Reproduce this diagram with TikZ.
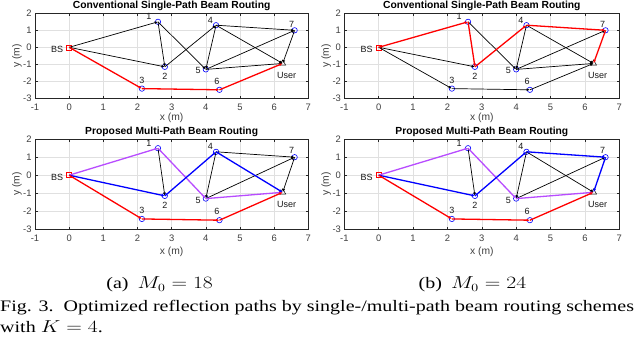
\documentclass[tikz,border=0pt]{standalone}
\usepackage{fontspec}
\setmainfont{Liberation Serif}
\newfontfamily\plotfont{Liberation Sans}
\usetikzlibrary{arrows.meta,shapes.geometric}
\definecolor{axc}{gray}{0.15}
\definecolor{gridc}{gray}{0.88}
\definecolor{tickc}{gray}{0.25}
\definecolor{mpurple}{rgb}{0.72,0.3,1}
\tikzset{
  ptmark/.style={circle, draw=blue, line width=0.6pt, minimum size=5.4pt, inner sep=0pt},
  bsmark/.style={rectangle, draw=red, line width=0.6pt, minimum size=5pt, inner sep=0pt},
  usrmark/.style={regular polygon, regular polygon sides=3, draw=black, line width=0.5pt, minimum size=7pt, inner sep=0pt},
  lbl/.style={font=\plotfont\fontsize{9}{9}\selectfont, text=black!90, inner sep=0pt},
  ticklbl/.style={font=\plotfont\fontsize{9.4}{9.4}\selectfont, text=tickc, inner sep=0pt},
  axlbl/.style={font=\plotfont\fontsize{10.3}{10.3}\selectfont, text=tickc, inner sep=0pt},
  ttl/.style={font=\plotfont\bfseries\fontsize{10.3}{10.3}\selectfont, inner sep=0pt},
  edgebase/.style={-{Latex[length=3.4pt,width=2.8pt]}, line width=0.7pt},
  blk/.style={edgebase, black},
  rd/.style={edgebase, red, line width=1.3pt},
  bl/.style={edgebase, blue, line width=1.3pt},
  pu/.style={edgebase, mpurple, line width=1.3pt},
  capt/.style={font=\fontsize{16}{16}\selectfont, inner sep=0pt, xscale=1.25}
}
% #1 prefix, #2 L, #3 R, #4 T, #5 B, #6 title, #7 xlabel offset
\newcommand\drawpanel[7]{%
  \pgfmathsetmacro\sx{(#3-#2)/8}%
  \pgfmathsetmacro\sy{(#5-#4)/5}%
  \pgfmathsetmacro\ox{#2+\sx}%
  \pgfmathsetmacro\oy{#4+2*\sy}%
  \foreach \v in {0,...,6} \draw[gridc, line width=0.4pt] ({\ox+\v*\sx},#4) -- ({\ox+\v*\sx},#5);
  \foreach \v in {-2,...,1} \draw[gridc, line width=0.4pt] (#2,{\oy-\v*\sy}) -- (#3,{\oy-\v*\sy});
  \draw[axc, line width=0.5pt] (#2,#4) rectangle (#3,#5);
  \foreach \v in {-1,...,7} {
    \draw[axc, line width=0.5pt] ({\ox+\v*\sx},#5) -- ++(0,-2.5) ({\ox+\v*\sx},#4) -- ++(0,2.5);
    \node[ticklbl] (#1xt\v) at ({\ox+\v*\sx},#5+9.2) {\v};
  }
  \foreach \v in {-3,...,2} {
    \draw[axc, line width=0.5pt] (#2,{\oy-\v*\sy}) -- ++(2.5,0) (#3,{\oy-\v*\sy}) -- ++(-2.5,0);
    \node[ticklbl, anchor=east] (#1yt\v) at (#2-3.2,{\oy-\v*\sy}) {\v};
  }
  \node[axlbl] (#1xl) at ({(#2+#3)/2},#5+#7) {x (m)};
  \node[axlbl, rotate=90] (#1yl) at (#2-18,{(#4+#5)/2}) {y (m)};
  \node[ttl] (#1tt) at ({(#2+#3)/2},#4-7.6) {#6};
  \begin{scope}[shift={(\ox,\oy)}, x=\sx pt, y=\sy pt]
    \node[bsmark] (#1BS) at (0,0) {};
    \node[ptmark] (#11) at (2.6,1.5) {};
    \node[ptmark] (#12) at (2.8,-1.15) {};
    \node[ptmark] (#13) at (2.13,-2.43) {};
    \node[ptmark] (#14) at (4.3,1.3) {};
    \node[ptmark] (#15) at (4.0,-1.3) {};
    \node[ptmark] (#16) at (4.4,-2.5) {};
    \node[ptmark] (#17) at (6.6,1.0) {};
    \node[usrmark] (#1U) at (6.25,-0.95) {};
  \end{scope}
  \node[lbl] (#1lBS) at ([shift={(-12pt,-2pt)}]#1BS.center) {BS};
  \node[lbl] (#1l1) at ([shift={(-9pt,5pt)}]#11.center) {1};
  \node[lbl] (#1l2) at ([shift={(0pt,-9.5pt)}]#12.center) {2};
  \node[lbl] (#1l3) at ([shift={(0pt,8.3pt)}]#13.center) {3};
  \node[lbl] (#1l4) at ([shift={(-5.7pt,5pt)}]#14.center) {4};
  \node[lbl] (#1l5) at ([shift={(-7.7pt,-1.4pt)}]#15.center) {5};
  \node[lbl] (#1l6) at ([shift={(-2.7pt,8.7pt)}]#16.center) {6};
  \node[lbl] (#1l7) at ([shift={(-3pt,6.3pt)}]#17.center) {7};
  \node[lbl] (#1lU) at ([shift={(4pt,-11.7pt)}]#1U.center) {User};
}
\newcommand\edg[4]{\draw[#2] (#1#3.center) -- (#1#4.center);}
\begin{document}
\begin{tikzpicture}[x=1pt,y=-1pt]
\useasboundingbox (0,0) rectangle (640,343);
\fill[white] (0,0) rectangle (640,343);
% panel a: top left
\drawpanel{a}{35}{308.3}{13.3}{98.3}{Conventional Single-Path Beam Routing}{20}
\edg{a}{blk}{BS}{1}\edg{a}{blk}{BS}{2}\edg{a}{blk}{1}{2}\edg{a}{blk}{1}{5}
\edg{a}{blk}{2}{4}\edg{a}{blk}{4}{5}\edg{a}{blk}{4}{7}\edg{a}{blk}{4}{U}
\edg{a}{blk}{5}{7}\edg{a}{blk}{5}{U}\edg{a}{blk}{7}{U}
\edg{a}{rd}{BS}{3}\edg{a}{rd}{3}{6}\edg{a}{rd}{6}{U}
% panel b: top right
\drawpanel{b}{344.3}{619.3}{13.3}{98.3}{Conventional Single-Path Beam Routing}{20}
\edg{b}{blk}{BS}{2}\edg{b}{blk}{BS}{3}\edg{b}{blk}{3}{6}\edg{b}{blk}{6}{U}
\edg{b}{blk}{1}{5}\edg{b}{blk}{4}{5}\edg{b}{blk}{4}{U}\edg{b}{blk}{5}{7}\edg{b}{blk}{5}{U}
\edg{b}{rd}{BS}{1}\edg{b}{rd}{1}{2}\edg{b}{rd}{2}{4}\edg{b}{rd}{4}{7}\edg{b}{rd}{7}{U}
% panel c: bottom left
\drawpanel{c}{35}{308.3}{139.2}{229.2}{Proposed Multi-Path Beam Routing}{22.5}
\edg{c}{blk}{1}{2}\edg{c}{blk}{4}{5}\edg{c}{blk}{4}{7}\edg{c}{blk}{5}{7}\edg{c}{blk}{7}{U}
\edg{c}{pu}{BS}{1}\edg{c}{pu}{1}{5}\edg{c}{pu}{5}{U}
\edg{c}{bl}{BS}{2}\edg{c}{bl}{2}{4}\edg{c}{bl}{4}{U}
\edg{c}{rd}{BS}{3}\edg{c}{rd}{3}{6}\edg{c}{rd}{6}{U}
% panel d: bottom right
\drawpanel{d}{344.3}{619.3}{139.2}{229.2}{Proposed Multi-Path Beam Routing}{22.5}
\edg{d}{blk}{1}{2}\edg{d}{blk}{4}{5}\edg{d}{blk}{4}{U}\edg{d}{blk}{5}{7}
\edg{d}{pu}{BS}{1}\edg{d}{pu}{1}{5}\edg{d}{pu}{5}{U}
\edg{d}{bl}{BS}{2}\edg{d}{bl}{2}{4}\edg{d}{bl}{4}{7}\edg{d}{bl}{7}{U}
\edg{d}{rd}{BS}{3}\edg{d}{rd}{3}{6}\edg{d}{rd}{6}{U}
% captions
\node[capt, anchor=base] (capa) at (159.7,288.5) {(a)\hspace{0.45em}$M_0=18$};
\node[capt, anchor=base] (capb) at (472.5,288.5) {(b)\hspace{0.45em}$M_0=24$};
\node[capt, anchor=base west] (cap1) at (0,311) {Fig. 3.\hspace{0.5em}Optimized reflection paths by single-/multi-path beam routing schemes};
\node[capt, anchor=base west] (cap2) at (0,332) {with $K=4$.};
\end{tikzpicture}
\end{document}
